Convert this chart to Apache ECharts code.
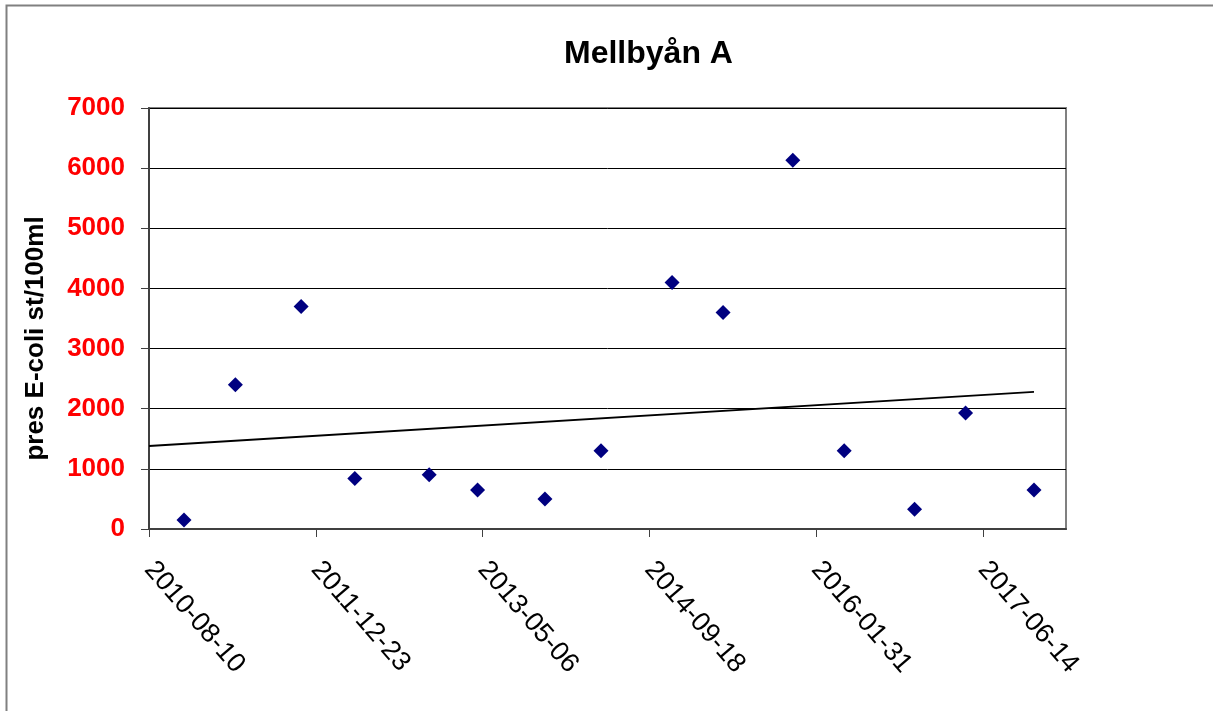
<!DOCTYPE html>
<html>
<head>
<meta charset="utf-8">
<title>Mellbyån A</title>
<script src="https://cdn.jsdelivr.net/npm/echarts@6/dist/echarts.min.js"></script>
<style>
    html, body { margin: 0; padding: 0; background: #fff; }
    #chart { width: 1213px; height: 711px; }
</style>
</head>
<body>
<div id="chart"></div>
<script>
    // provdatum och halter (pres E-coli st/100ml)
    var sampleDates = ['2010-11-23', '2011-04-26', '2011-11-09', '2012-04-18', '2012-11-27',
        '2013-04-21', '2013-11-09', '2014-04-26', '2014-11-25', '2015-04-27',
        '2015-11-22', '2016-04-24', '2016-11-21', '2017-04-23', '2017-11-14'];
    var ecoliValues = [150, 2400, 3700, 840, 900, 650, 500, 1300, 4100, 3600, 6130, 1300, 330, 1930, 650];

    // trendlinje
    var trendDates = ['2010-08-10', '2017-11-14'];
    var trendValues = [1380, 2280];

    // x-axelns start/slut och steg (dagar)
    var axisStart = '2010-08-10';
    var axisEnd = '2018-02-18';
    var tickStepDays = 500;
    var yTicks = [0, 1000, 2000, 3000, 4000, 5000, 6000, 7000];

    var DAY = 86400000;
    function toMs(s) {
        var p = s.split('-');
        return Date.UTC(+p[0], +p[1] - 1, +p[2]);
    }
    var startMs = toMs(axisStart);
    function dayOffset(s) {
        return Math.round((toMs(s) - startMs) / DAY);
    }

    var scatterData = sampleDates.map(function (d, i) {
        return [dayOffset(d), ecoliValues[i]];
    });
    var trendData = trendDates.map(function (d, i) {
        return [dayOffset(d), trendValues[i]];
    });

    var chart = echarts.init(document.getElementById('chart'));
    var option = {
        backgroundColor: '#fff',
        animation: false,
        title: {
            text: 'Mellbyån A',
            left: 559,
            top: 33,
            textStyle: {
                fontFamily: 'Arial, "Liberation Sans"',
                fontSize: 32,
                fontWeight: 'bold',
                color: '#000'
            }
        },
        grid: {
            left: 149,
            top: 108,
            right: 147,
            bottom: 182,
            show: true,
            borderColor: '#808080',
            borderWidth: 2
        },
        xAxis: {
            type: 'value',
            min: 0,
            max: dayOffset(axisEnd),
            interval: tickStepDays,
            splitLine: {show: false},
            axisLine: {lineStyle: {color: '#404040', width: 2}},
            axisTick: {length: 8, lineStyle: {color: '#404040', width: 1}},
            axisLabel: {
                rotate: -49,
                margin: 36,
                showMaxLabel: false,
                fontFamily: 'Arial, "Liberation Sans"',
                fontSize: 27,
                color: '#000',
                formatter: function (v) {
                    if (v % tickStepDays !== 0) return '';
                    return new Date(startMs + v * DAY).toISOString().slice(0, 10);
                }
            }
        },
        yAxis: {
            type: 'value',
            min: yTicks[0],
            max: yTicks[yTicks.length - 1],
            interval: yTicks[1] - yTicks[0],
            name: 'pres E-coli st/100ml',
            nameLocation: 'middle',
            nameGap: 100,
            nameTextStyle: {
                fontFamily: 'Arial, "Liberation Sans"',
                fontSize: 26,
                fontWeight: 'bold',
                color: '#000',
                padding: [0, 40, 0, 0]
            },
            axisLine: {show: true, lineStyle: {color: '#404040', width: 2}},
            axisTick: {show: true, length: 8, lineStyle: {color: '#404040', width: 1}},
            splitLine: {lineStyle: {color: '#000', width: 1}},
            axisLabel: {
                margin: 24,
                fontFamily: 'Arial, "Liberation Sans"',
                fontSize: 26,
                fontWeight: 'bold',
                color: '#ff0000',
                formatter: function (v) {
                    return String(v);
                }
            }
        },
        series: [
            {
                name: 'trend',
                type: 'line',
                data: trendData,
                symbol: 'none',
                lineStyle: {color: '#000', width: 2},
                z: 2
            },
            {
                name: 'E-coli',
                type: 'scatter',
                data: scatterData,
                symbol: 'diamond',
                symbolSize: 15,
                itemStyle: {color: '#000080', opacity: 1},
                z: 3
            }
        ],
        graphic: [
            {
                type: 'polyline',
                shape: {points: [[6.5, 711], [6.5, 5.5], [1213, 5.5]]},
                style: {stroke: '#808080', lineWidth: 2, fill: null},
                silent: true
            }
        ]
    };
    chart.setOption(option);
</script>
</body>
</html>
